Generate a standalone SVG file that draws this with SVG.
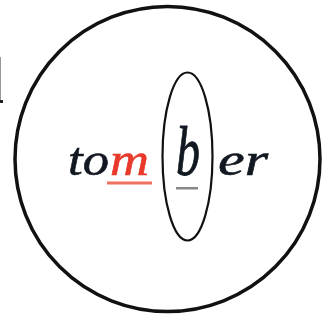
<svg xmlns="http://www.w3.org/2000/svg" width="322" height="320" viewBox="0 0 322 320">
<style>
.w{font-family:"Liberation Serif","DejaVu Serif",serif;font-style:italic;font-size:46px;fill:#111820;stroke:#111820;stroke-width:0.6}
.r{fill:#e8392a;stroke:#e8392a}
</style>
<rect width="322" height="320" fill="#fff"/>
<line x1="0.5" y1="57" x2="0.5" y2="101" stroke="#999" stroke-width="1"/>
<rect x="0" y="100" width="3" height="3" fill="#222"/>
<g id="outer"><ellipse cx="167.5" cy="159" rx="152.5" ry="152.5" fill="none" stroke="#111" stroke-width="3.5"/></g>
<g id="inner"><ellipse cx="187.5" cy="156.5" rx="25" ry="84" fill="none" stroke="#111" stroke-width="2.2"/></g>
<g id="word">
<text class="w" x="68" y="175" textLength="41" lengthAdjust="spacingAndGlyphs">to</text>
<text class="w r" x="110" y="175" textLength="39" lengthAdjust="spacingAndGlyphs">m</text>
<rect x="107" y="181.5" width="45" height="3" fill="#f07060"/>
<text class="w" x="176" y="175" textLength="24" lengthAdjust="spacingAndGlyphs" transform="translate(0,-87.5) scale(1,1.5)">b</text>
<rect x="176" y="187" width="22" height="2.5" fill="#888"/>
<text class="w" x="218" y="175" textLength="50" lengthAdjust="spacingAndGlyphs">er</text>
</g>
</svg>
